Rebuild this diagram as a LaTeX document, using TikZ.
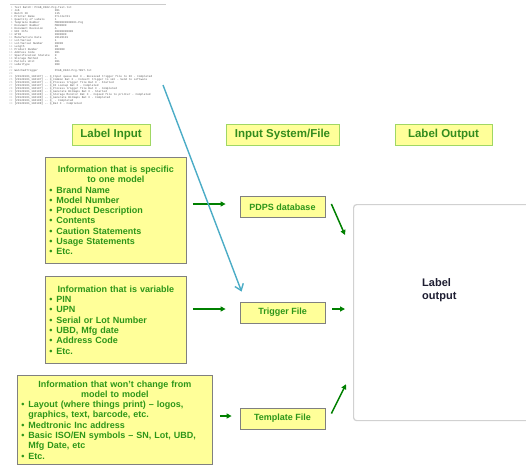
\documentclass[tikz,border=0pt]{standalone}
\usepackage{fontspec}
\setmainfont{Liberation Sans}
\setmonofont{Liberation Mono}
\usepackage{array}
\usetikzlibrary{arrows.meta}
\definecolor{boxfill}{RGB}{255,255,153}
\definecolor{hdrline}{RGB}{160,215,100}
\definecolor{hdrtext}{RGB}{51,140,30}
\definecolor{infotext}{RGB}{45,150,25}
\definecolor{flowgreen}{RGB}{0,128,0}
\definecolor{traceblue}{RGB}{75,172,198}
\newcommand{\itm}[1]{\makebox[7pt][l]{\textbullet}#1}
\tikzset{
  hdr/.style={draw=hdrline, line width=1pt, fill=boxfill, text=hdrtext, font=\bfseries\fontsize{11.5}{13}\selectfont, minimum height=21pt, inner sep=0pt},
  infobox/.style={draw=black!50, line width=0.8pt, fill=boxfill, text=infotext, font=\bfseries\fontsize{9}{10.3}\selectfont, align=left, anchor=north west, inner xsep=4pt, inner ysep=2pt},
  sysbox/.style={draw=black!50, line width=0.8pt, fill=boxfill, text=infotext, font=\bfseries\fontsize{9}{10}\selectfont, minimum width=85pt, minimum height=21pt, inner sep=0pt},
  flow/.style={draw=flowgreen, line width=1.5pt, -{Triangle[length=5pt,width=5pt]}},
  trace/.style={draw=traceblue, line width=1.4pt, -{Straight Barb[length=6pt,width=9pt]}},
}
\begin{document}
\begin{tikzpicture}[x=1pt,y=-1pt]
\useasboundingbox (0,0) rectangle (526,469);
\clip (0,0) rectangle (526,469);

% log file screenshot
\draw[black!20, line width=0.6pt] (10,4.5) -- (166,4.5);
\node[anchor=north west, inner sep=0pt, text=black!65, font=\ttfamily\fontsize{2.8}{3}\selectfont] (logshot) at (9,6.5) {%
\begin{tabular}{@{}>{\color{black!30}}r@{\hspace{2pt}}l@{\hspace{5pt}}l@{}}
1 & \multicolumn{2}{@{}l@{}}{Text Batch: PCAB\_0042.Pcg.Test.txt}\\
2 & Job & 001\\
3 & Batch ID & 115\\
4 & Printer Name & Printer01\\
5 & Quantity of Labels & 1\\
6 & Template Number & M000000000001.Pcg\\
7 & Document Number & M000000\\
8 & Document Revision & A\\
9 & UDI Info & 00000000000\\
10 & GTIN & 0000000\\
11 & Manufacture Date & 20120101\\
12 & Lot/Serial & 1\\
13 & Lot/Serial Number & 00000\\
14 & Length & 00\\
15 & Product Number & 000000\\
16 & Address Code & 001\\
17 & Specification Statute & 0\\
18 & Storage Method & A\\
19 & Pallets Unit & 001\\
20 & LabelType & 000\\
21 & & \\
22 & WatchedTrigger & PCAB\_0042.Pcg.TEST.txt\\
23 & & \\
24 & \multicolumn{2}{@{}l@{}}{[20120101\_104107] -- Q\_Input queue Bat X - Received trigger file to DI - Completed}\\
25 & \multicolumn{2}{@{}l@{}}{[20120101\_104107] -- Q\_Common Bat X - Convert trigger to xml - Send to Loftware}\\
26 & \multicolumn{2}{@{}l@{}}{[20120101\_104107] -- Q\_Process trigger file Bat X - Started}\\
27 & \multicolumn{2}{@{}l@{}}{[20120101\_104107] -- Q\_DI Lookup Bat X - Completed}\\
28 & \multicolumn{2}{@{}l@{}}{[20120101\_104107] -- Q\_Process trigger file Bat X - Completed}\\
29 & \multicolumn{2}{@{}l@{}}{[20120101\_104108] -- Q\_Generate Bitmaps Bat X - Started}\\
30 & \multicolumn{2}{@{}l@{}}{[20120101\_104108] -- Q\_Storage Monitor Bat X - Copied file to printer - Completed}\\
31 & \multicolumn{2}{@{}l@{}}{[20120101\_104108] -- Q\_Generate Bitmaps Bat X - Completed}\\
32 & \multicolumn{2}{@{}l@{}}{[20120101\_104108] -- Q\_ - Completed}\\
33 & \multicolumn{2}{@{}l@{}}{[20120101\_104108] -- Q\_Bat X - Completed}\\
\end{tabular}};
\coordinate (logend) at (163,85);

% column headers
\node[hdr, minimum width=78pt] (hin) at (111,134.5) {Label Input};
\node[hdr, minimum width=113pt] (hsys) at (282.5,134.5) {Input System/File};
\node[hdr, minimum width=97pt] (hout) at (443.5,134.5) {Label Output};

% input boxes
\node[infobox, text width=133pt, minimum height=106pt] (spec) at (45,157) {%
{\centering Information that is specific\\ to one model\par}
\itm{Brand Name}\\
\itm{Model Number}\\
\itm{Product Description}\\
\itm{Contents}\\
\itm{Caution Statements}\\
\itm{Usage Statements}\\
\itm{Etc.}};
\node[infobox, text width=133pt, minimum height=87pt] (vari) at (45,276) {%
{\centering Information that is variable\par}
\itm{PIN}\\
\itm{UPN}\\
\itm{Serial or Lot Number}\\
\itm{UBD, Mfg date}\\
\itm{Address Code}\\
\itm{Etc.}};
\node[infobox, text width=187pt, minimum height=89pt] (fixd) at (17,375) {%
{\centering Information that won't change from\\ model to model\par}
\itm{Layout (where things print) -- logos,}\\
\hspace*{7pt}graphics, text, barcode, etc.\\
\itm{Medtronic Inc address}\\
\itm{Basic ISO/EN symbols -- SN, Lot, UBD,}\\
\hspace*{7pt}Mfg Date, etc\\
\itm{Etc.}};

% input systems
\node[sysbox] (pdps) at (282.5,207) {PDPS database};
\node[sysbox] (trig) at (282.5,312.5) {Trigger File};
\node[sysbox] (tmpl) at (282.5,418.5) {Template File};

% output
\node[draw=black!18, line width=1.2pt, rounded corners=3pt, fill=white, anchor=north west, minimum width=260pt, minimum height=216pt, inner sep=0pt] (out) at (353,204) {};
\node[anchor=north west, inner sep=0pt, align=left, text={rgb,255:red,30;green,30;blue,50}, font=\bfseries\fontsize{11}{13}\selectfont] (outtxt) at (422,278) {Label\\output};

% connectors
\draw[flow] ([xshift=6pt,yshift=3pt]spec.east |- pdps.west) -- ([xshift=-14pt,yshift=3pt]pdps.west);
\draw[flow] ([xshift=6pt,yshift=3.5pt]vari.east |- trig.west) -- ([xshift=-14pt,yshift=3.5pt]trig.west);
\draw[flow] ([xshift=7pt,yshift=2.5pt]fixd.east |- tmpl.west) -- ([xshift=-8pt,yshift=2.5pt]tmpl.west);
\draw[flow] ([shift={(6pt,3pt)}]pdps.east) -- ([shift={(-8pt,-31pt)}]out.north west);
\draw[flow] ([xshift=7pt,yshift=3.5pt]trig.east) -- ([xshift=-8pt,yshift=3.5pt]trig.east -| out.west);
\draw[flow] ([shift={(6pt,5pt)}]tmpl.east) -- ([shift={(-7pt,37pt)}]out.south west);
\draw[trace] (logend) -- ([shift={(2pt,10pt)}]trig.north west);
\end{tikzpicture}
\end{document}
